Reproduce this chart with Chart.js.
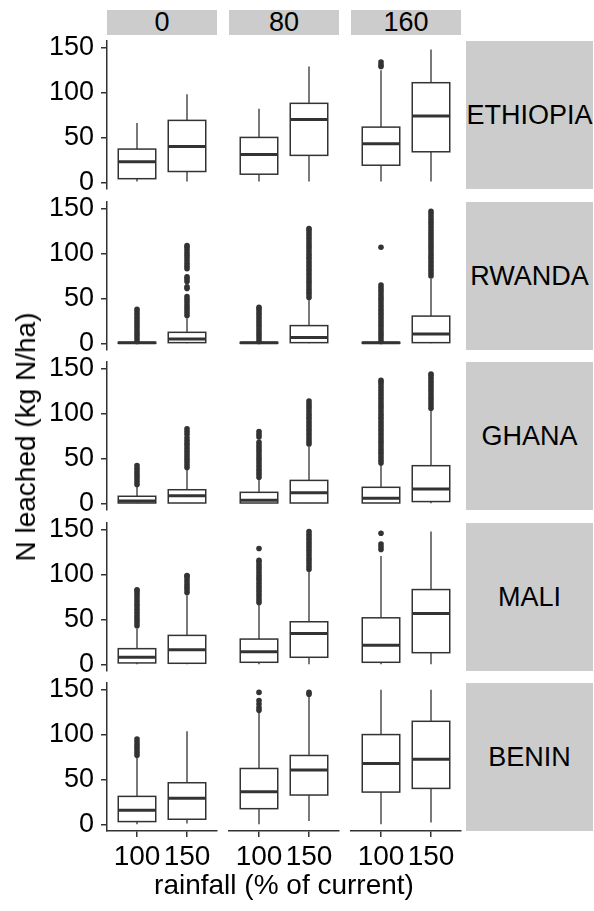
<!DOCTYPE html>
<html>
<head>
<meta charset="utf-8">
<script src="https://cdn.jsdelivr.net/npm/chart.js@4.4.0/dist/chart.umd.min.js"></script>
<style>
  body { margin: 0; background: #fff; }
  #fig { position: relative; width: 594px; height: 911px; overflow: hidden; font-family: "Liberation Sans", Arial, sans-serif; color: #000; }
  #fig canvas { position: absolute; }
  .strip { position: absolute; background: #cccccc; display: flex; align-items: center; justify-content: center; font-size: 27px; white-space: nowrap; }
  .title { position: absolute; font-size: 28px; white-space: nowrap; transform: translate(-50%, -50%); }
</style>
</head>
<body>
<div id="fig"></div>
<script>
'use strict';

// ******** DATA **************
let countries = ['ETHIOPIA', 'RWANDA', 'GHANA', 'MALI', 'BENIN'];
let doses = ['0', '80', '160'];
let rainfall = ['100', '150'];
let yTicks = [0, 50, 100, 150];

// box stats per panel cell: [lower whisker, q1, median, q3, upper whisker]
// order: dose 0 (100, 150), dose 80 (100, 150), dose 160 (100, 150)
let ethiopiaBoxes = [
  [1, 4, 23, 37, 66], [1, 12, 40, 69, 98],
  [1, 9, 31, 50, 82], [1, 30, 70, 88, 129],
  [1, 19, 43, 61.5, 125], [1, 34, 74, 111, 148]
];
let rwandaBoxes = [
  [0, 0, 0.5, 1, 1], [0, 0.7, 4.8, 12.2, 28],
  [0, 0, 0.5, 1, 1], [0, 0.7, 6.3, 19.7, 48],
  [0, 0, 0.5, 1, 1], [0, 0.7, 10.3, 30.3, 72]
];
let ghanaBoxes = [
  [0, 0.3, 2.6, 7.8, 18.4], [0, 0.3, 8.4, 15.1, 37],
  [0, 0.3, 3.3, 12.2, 26], [0, 0.3, 11.8, 25.5, 63],
  [0, 0.3, 5.6, 17.8, 42.6], [0, 1.9, 15.9, 41.9, 103.7]
];
let maliBoxes = [
  [0, 1.5, 7.8, 17.4, 40], [0, 1.1, 16.2, 32.2, 77],
  [0, 2.2, 14, 28.1, 66.7], [0, 7.8, 34.4, 47.4, 103.7],
  [0, 2.2, 21.1, 51.8, 120.7], [0, 12.9, 56.7, 83.3, 148]
];
let beninBoxes = [
  [0, 3, 15.6, 31.1, 74], [1, 5.6, 28.9, 46.3, 103.7],
  [0, 17.4, 36.3, 62.2, 124], [3.7, 32.6, 60.4, 76.7, 142.6],
  [0, 35.9, 67.8, 100, 150], [2, 40, 72.6, 114.8, 150]
];

// outliers per panel cell, same order
let ethiopiaOut = [[], [], [], [], [129, 131, 134], []];
let rwandaOut = [
  [2, 5, 8, 11, 14, 17, 20, 23, 26, 29, 32, 35, 38],
  [31, 34, 37, 40, 43, 46, 49, 52, 61, 63, 69, 72, 74, 83, 86, 89, 92, 95, 98, 101, 104, 107, 109],
  [2, 5, 8, 11, 14, 17, 20, 23, 26, 29, 32, 35, 38, 40],
  [51, 54, 57, 60, 63, 66, 69, 72, 75, 78, 81, 84, 87, 90, 93, 96, 99, 102, 105, 108, 111, 114, 117, 120, 123, 126, 128],
  [2, 5, 8, 11, 14, 17, 20, 23, 26, 29, 32, 35, 38, 41, 44, 47, 50, 53, 56, 59, 62, 65, 107],
  [75, 78, 81, 84, 87, 90, 93, 96, 99, 102, 105, 108, 111, 114, 117, 120, 123, 126, 129, 132, 135, 138, 141, 144, 147]
];
let ghanaOut = [
  [21, 24, 27, 30, 33, 36, 39, 42],
  [40, 43, 46, 49, 52, 55, 58, 61, 64, 67, 70, 73, 77, 80, 83],
  [29, 32, 35, 38, 41, 44, 47, 50, 53, 56, 59, 62, 65, 68, 74, 77, 80],
  [66, 69, 72, 75, 78, 81, 84, 87, 90, 93, 96, 99, 102, 105, 108, 111, 114],
  [45, 48, 51, 54, 57, 60, 63, 66, 69, 72, 75, 78, 81, 84, 87, 90, 93, 96, 99, 102, 105, 108, 111, 114, 117, 120, 123, 126, 129, 132, 135, 137],
  [106, 109, 112, 115, 118, 121, 124, 127, 130, 133, 136, 139, 142, 144]
];
let maliOut = [
  [43, 46, 49, 52, 55, 58, 61, 64, 67, 70, 73, 76, 79, 82, 83],
  [80, 83, 86, 89, 92, 95, 98, 99],
  [69, 72, 75, 78, 81, 84, 87, 90, 93, 96, 99, 102, 105, 108, 111, 114, 116, 129],
  [106, 109, 112, 115, 118, 121, 124, 127, 130, 133, 136, 139, 142, 145, 148],
  [128, 131, 134, 146],
  []
];
let beninOut = [
  [77, 80, 83, 86, 89, 92, 95],
  [],
  [127, 130, 134, 138, 147],
  [145, 147],
  [],
  []
];

let allBoxes = [ethiopiaBoxes, rwandaBoxes, ghanaBoxes, maliBoxes, beninBoxes];
let allOut = [ethiopiaOut, rwandaOut, ghanaOut, maliOut, beninOut];

// ******** LAYOUT **************
let panelX = [107, 229, 351];
let panelY = [41, 202, 362, 523, 683];
let panelW = 110;
let panelH = 148;
let boxWidth = 0.75;
let ink = '#333333';

Chart.defaults.font.family = '"Liberation Sans", Arial, sans-serif';
Chart.defaults.color = '#000';

let fig = document.getElementById('fig');

function addDiv(cls, text, css) {
  let d = document.createElement('div');
  d.className = cls;
  d.textContent = text;
  Object.assign(d.style, css);
  fig.appendChild(d);
  return d;
}

// draws the boxes + whiskers through the chart's scales
function boxPlugin(stats) {
  return {
    id: 'boxes',
    beforeDatasetsDraw(chart) {
      let ctx = chart.ctx;
      let x = chart.scales.x;
      let y = chart.scales.y;
      ctx.save();
      stats.forEach((b, i) => {
        let cx = x.getPixelForValue(i + 1);
        let left = x.getPixelForValue(i + 1 - boxWidth / 2);
        let right = x.getPixelForValue(i + 1 + boxWidth / 2);
        let [lo, q1, med, q3, hi] = b;
        ctx.strokeStyle = ink;
        ctx.lineWidth = 1.3;
        ctx.beginPath();
        ctx.moveTo(cx, y.getPixelForValue(lo));
        ctx.lineTo(cx, y.getPixelForValue(q1));
        ctx.moveTo(cx, y.getPixelForValue(q3));
        ctx.lineTo(cx, y.getPixelForValue(hi));
        ctx.stroke();
        let top = y.getPixelForValue(q3);
        let bot = y.getPixelForValue(q1);
        ctx.fillStyle = '#fff';
        ctx.fillRect(left, top, right - left, bot - top);
        ctx.lineWidth = 1.5;
        ctx.strokeRect(left, top, right - left, bot - top);
        ctx.lineWidth = 3;
        ctx.beginPath();
        ctx.moveTo(left, y.getPixelForValue(med));
        ctx.lineTo(right, y.getPixelForValue(med));
        ctx.stroke();
      });
      ctx.restore();
    }
  };
}

function zeroPad(s) {
  s.paddingTop = 0;
  s.paddingBottom = 0;
  s.paddingLeft = 0;
  s.paddingRight = 0;
}

function makePanel(r, c) {
  let isLeft = c === 0;
  let isBottom = r === countries.length - 1;
  let ml = isLeft ? 107 : 12;
  let mr = 12;
  let mt = 14;
  let mb = isBottom ? 50 : 12;

  let canvas = document.createElement('canvas');
  canvas.width = ml + panelW + mr;
  canvas.height = mt + panelH + mb;
  canvas.style.left = (panelX[c] - ml) + 'px';
  canvas.style.top = (panelY[r] - mt) + 'px';
  fig.appendChild(canvas);

  let stats = allBoxes[r].slice(c * 2, c * 2 + 2);
  let outs = allOut[r].slice(c * 2, c * 2 + 2);
  let points = [];
  outs.forEach((list, i) => list.forEach(v => points.push({ x: i + 1, y: v })));

  let axisGrid = { display: true, drawOnChartArea: false, drawTicks: true, tickLength: 6, color: ink, lineWidth: 1.5 };
  let axisBorder = { display: true, color: ink, width: 1.5 };

  new Chart(canvas, {
    type: 'scatter',
    data: {
      datasets: [{
        data: points,
        pointRadius: 2.8,
        pointHoverRadius: 2.8,
        backgroundColor: ink,
        borderWidth: 0
      }]
    },
    options: {
      responsive: false,
      animation: false,
      events: [],
      devicePixelRatio: 1,
      layout: { padding: { left: isLeft ? 0 : ml, right: mr, top: mt, bottom: isBottom ? 0 : mb } },
      plugins: { legend: { display: false }, tooltip: { enabled: false } },
      scales: {
        x: {
          type: 'linear',
          min: 0.4,
          max: 2.6,
          display: isBottom,
          grid: axisGrid,
          border: axisBorder,
          afterBuildTicks: s => { s.ticks = rainfall.map((t, i) => ({ value: i + 1 })); },
          afterFit: s => { s.height = isBottom ? mb : 0; zeroPad(s); },
          ticks: {
            autoSkip: false,
            maxRotation: 0,
            minRotation: 0,
            padding: 3,
            color: '#000',
            font: { size: 28 },
            callback: (v, i) => rainfall[i]
          }
        },
        y: {
          type: 'linear',
          min: -7.5,
          max: 157.5,
          display: isLeft,
          grid: axisGrid,
          border: axisBorder,
          afterBuildTicks: s => { s.ticks = yTicks.map(v => ({ value: v })); },
          afterFit: s => { s.width = isLeft ? ml : 0; zeroPad(s); },
          ticks: {
            padding: 7,
            color: '#000',
            font: { size: 27 },
            callback: v => String(v)
          }
        }
      }
    },
    plugins: [boxPlugin(stats)]
  });
}

// ******** RENDER **************
doses.forEach((d, c) => {
  addDiv('strip', d, { left: panelX[c] + 'px', top: '10px', width: panelW + 'px', height: '25px' });
});
countries.forEach((name, r) => {
  addDiv('strip', name, { left: '466px', top: panelY[r] + 'px', width: '127px', height: panelH + 'px' });
  doses.forEach((d, c) => makePanel(r, c));
});

addDiv('title', 'rainfall (% of current)', { left: '284px', top: '885px' });
let yTitle = addDiv('title', 'N leached (kg N/ha)', { left: '26px', top: '437px' });
yTitle.style.transform = 'translate(-50%, -50%) rotate(-90deg)';
</script>
</body>
</html>
